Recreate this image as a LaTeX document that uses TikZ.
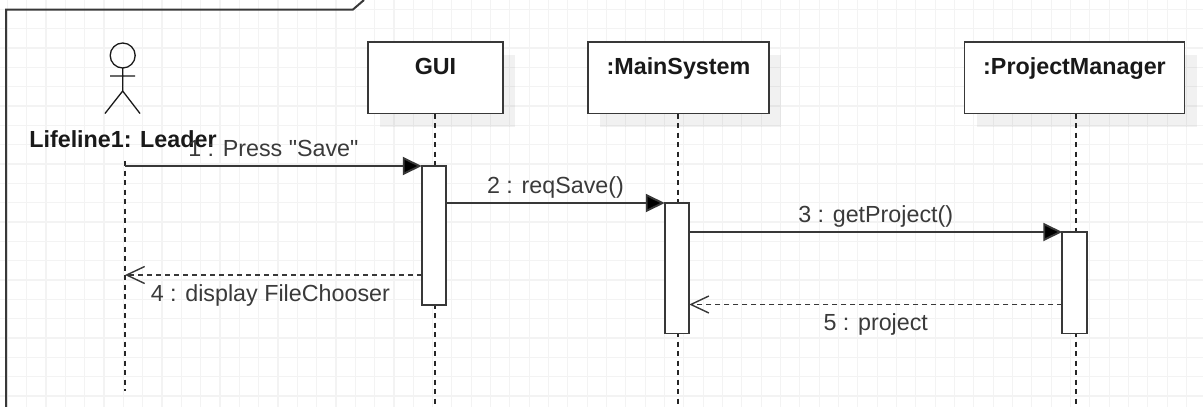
\documentclass[tikz,border=0pt]{standalone}
\usepackage{fontspec}
\setmainfont{Liberation Sans}[Ligatures=TeXOff]
\usepackage{tikz}
\usetikzlibrary{arrows.meta,shadows}
\definecolor{gridgray}{HTML}{F3F3F3}
\definecolor{linegray}{HTML}{383838}
\definecolor{textgray}{HTML}{3A3A3A}
\tikzset{
  gridline/.style={draw=gridgray, line width=1.2pt},
  framing/.style={draw=linegray, line width=2pt},
  objbox/.style={draw=linegray, line width=1.8pt, fill=white, anchor=north west, inner sep=0pt, outer sep=0pt,
    general shadow={fill=black, opacity=0.055, shadow xshift=12pt, shadow yshift=-13pt}},
  objtext/.style={font=\fontsize{23.3}{28}\selectfont\bfseries, text=black!90, inner sep=0pt, text height=17pt, text depth=5pt},
  lifeline/.style={draw=black!85, line width=1.8pt, dash pattern=on 5pt off 4.5pt},
  activation/.style={draw=linegray, line width=1.8pt, fill=white, anchor=north, minimum width=24.5pt, inner sep=0pt, outer sep=0pt},
  actorline/.style={draw=black!90, line width=1.3pt},
  msg/.style={draw=linegray, line width=1.9pt, -{Triangle[length=19pt,width=18pt,fill=black]}},
  reply/.style={draw=linegray, line width=1.9pt, dash pattern=on 5pt off 4pt, -{Straight Barb[length=18pt,width=17pt,line width=1.4pt]}},
  msglabel/.style={font=\fontsize{23.3}{28}\selectfont, text=textgray, anchor=base, inner sep=0pt, yshift=10pt},
  replylabel/.style={msglabel, yshift=-36pt}
}

\begin{document}
\begin{tikzpicture}[x=1pt, y=-1pt]
  \useasboundingbox (0,0) rectangle (1203,407);
  % background grid
  \foreach \gx in {0,...,62} \draw[gridline] (7.3+19.33*\gx,0) -- (7.3+19.33*\gx,407);
  \foreach \gy in {0,...,20} \draw[gridline] (0,9.3+19.33*\gy) -- (1203,9.3+19.33*\gy);

  % frame with its tab
  \coordinate (frame_bl) at (6,407);
  \coordinate (frame_c) at (6,9.5);
  \coordinate (tab_a) at (353,9.5);
  \coordinate (tab_b) at (364,0);
  \draw[framing] (frame_bl) -- (frame_c) -- (tab_a) -- (tab_b);

  % actor
  \node[circle, actorline, minimum size=25pt, inner sep=0pt, outer sep=0pt] (head) at (122.7,55.5) {};
  \coordinate (hip) at (122.7,91);
  \coordinate (arm_l) at (110,76);
  \coordinate (arm_r) at (135,76);
  \coordinate (foot_l) at (105,113.5);
  \coordinate (foot_r) at (140,113.5);
  \draw[actorline] (head.south) -- (hip) (arm_l) -- (arm_r) (foot_l) -- (hip) -- (foot_r);
  \node[objtext] (leader) at (123,141) {Lifeline1: Leader};

  % objects
  \node[objbox, minimum width=135pt, minimum height=71.5pt, label={[objtext, yshift=9.75pt]center:GUI}] (gui) at (368,42) {};
  \node[objbox, minimum width=181pt, minimum height=71.5pt, label={[objtext, yshift=9.75pt]center::MainSystem}] (main) at (588,42) {};
  \node[objbox, minimum width=220pt, minimum height=71.5pt, label={[objtext, yshift=9.75pt]center::ProjectManager}] (pm) at (964.5,42) {};

  % lifelines
  \coordinate (leader_top) at (125,161);
  \coordinate (leader_end) at (125,391);
  \coordinate (gui_end) at (435,407);
  \coordinate (main_end) at (678,407);
  \coordinate (pm_end) at (1076,407);
  \draw[lifeline] (leader_top) -- (leader_end);
  \draw[lifeline] (gui_end |- gui.south) -- (gui_end);
  \draw[lifeline] (main_end |- main.south) -- (main_end);
  \draw[lifeline] (pm_end |- pm.south) -- (pm_end);

  % activations
  \node[activation, minimum height=139pt] (act_gui) at (434,166) {};
  \node[activation, minimum height=130.5pt] (act_main) at (677,203) {};
  \node[activation, minimum height=101.5pt] (act_pm) at (1074.5,232) {};

  \coordinate (ret_gui) at (act_gui.west |- 0,275);
  \coordinate (ret_pm) at (act_pm.west |- 0,304.5);

  \path
    (leader_top |- act_gui.north) edge[msg] node[msglabel] {1 : Press "Save"} (act_gui.north west)
    (act_gui.east |- act_main.north) edge[msg] node[msglabel] {2 : reqSave()} (act_main.north west)
    (act_main.east |- act_pm.north) edge[msg] node[msglabel] {3 : getProject()} (act_pm.north west)
    (ret_gui) edge[reply] node[replylabel, xshift=-3pt] {4 : display FileChooser} (ret_gui -| leader_top)
    (ret_pm) edge[reply] node[replylabel] {5 : project} (ret_pm -| act_main.east)
    ;
\end{tikzpicture}
\end{document}
